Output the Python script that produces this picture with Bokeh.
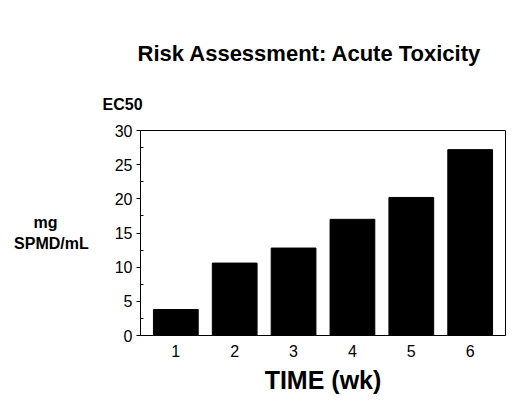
from bokeh.plotting import figure
from bokeh.models import FixedTicker, Range1d, Title
from bokeh.embed import file_html
from bokeh.resources import INLINE

weeks = [1, 2, 3, 4, 5, 6]
ec50 = [3.8, 10.6, 12.8, 17.0, 20.2, 27.2]
y_ticks = [0, 5, 10, 15, 20, 25, 30]

FONT = "Liberation Sans"

p = figure(width=512, height=403, output_backend="svg", toolbar_location=None,
           x_range=Range1d(0.4, 6.6), y_range=Range1d(0, 30),
           min_border_left=140, min_border_right=7, min_border_top=130, min_border_bottom=68)
p.title.visible = False
p.grid.visible = False
p.background_fill_color = "white"
p.border_fill_color = "white"
p.outline_line_color = "black"
p.outline_line_width = 1

p.vbar(x=weeks, top=ec50, width=0.76, bottom=0, color="black")

xa = p.xaxis[0]
xa.ticker = FixedTicker(ticks=weeks)
xa.major_tick_line_color = None
xa.minor_tick_line_color = None
xa.axis_line_color = "black"
xa.major_label_text_font = FONT
xa.major_label_text_font_size = "16px"
xa.major_label_text_color = "black"
xa.major_label_standoff = 3
xa.axis_label = "TIME (wk)"
xa.axis_label_text_font = FONT
xa.axis_label_text_font_size = "25px"
xa.axis_label_text_font_style = "bold"
xa.axis_label_text_color = "black"
xa.axis_label_standoff = 6

ya = p.yaxis[0]
ya.ticker = FixedTicker(ticks=y_ticks, minor_ticks=[2.5, 7.5, 12.5, 17.5, 22.5, 27.5])
ya.major_tick_out = 4
ya.major_tick_in = 0
ya.minor_tick_out = 0
ya.minor_tick_in = 3
ya.axis_line_color = "black"
ya.major_label_text_font = FONT
ya.major_label_text_font_size = "16px"
ya.major_label_text_color = "black"
ya.major_label_standoff = 4
ya.axis_label = "mg" + "\u00a0" * 7 + "\nSPMD/mL"
ya.axis_label_orientation = "horizontal"
ya.axis_label_text_font = FONT
ya.axis_label_text_font_size = "16px"
ya.axis_label_text_font_style = "bold"
ya.axis_label_text_color = "black"
ya.axis_label_standoff = 23

p.add_layout(Title(text="EC50", align="left", offset=-38, standoff=35,
                   text_font=FONT, text_font_size="16px", text_font_style="bold",
                   text_color="black"), "above")
p.add_layout(Title(text="Risk Assessment: Acute Toxicity", align="left", offset=-3,
                   standoff=22, text_font=FONT, text_font_size="22px",
                   text_font_style="bold", text_color="black"), "above")

open("out.html", "w").write(file_html(p, INLINE))
